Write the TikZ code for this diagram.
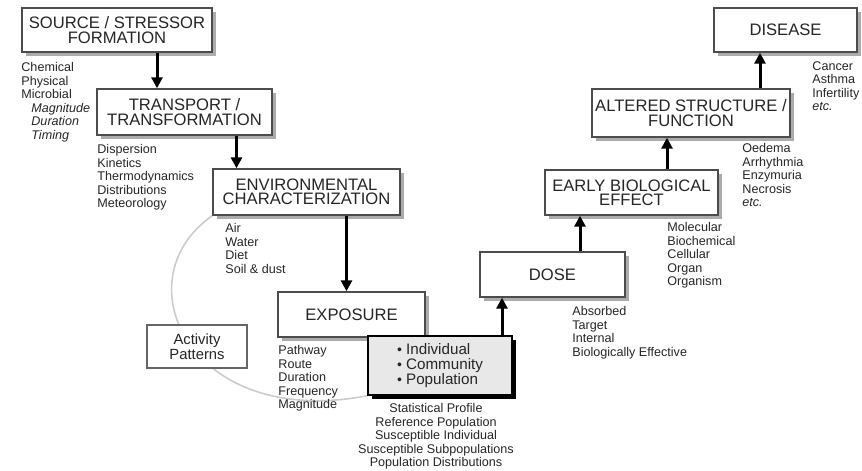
\documentclass[tikz,border=0pt]{standalone}
\usepackage{fontspec}
\setmainfont{Liberation Sans}
\usetikzlibrary{arrows.meta,shadows,backgrounds}

\begin{document}
\begin{tikzpicture}[
    x=0.5pt, y=-0.5pt,
    stage/.style={draw=black!70, line width=0.7pt, fill=white, inner sep=0pt,
      align=center, text=black!85, font=\fontsize{8.3}{7.2}\selectfont,
      general shadow={fill=gray!65, shadow xshift=2pt, shadow yshift=-2pt}},
    target/.style={draw=black, line width=0.7pt, fill=gray!18, inner sep=0pt,
      align=left, text=black!85, font=\fontsize{7.6}{7.3}\selectfont,
      general shadow={fill=black, shadow xshift=2.2pt, shadow yshift=-2.2pt}},
    habit/.style={draw=black!60, line width=0.8pt, fill=white, inner sep=0pt,
      align=center, text=black!85, font=\fontsize{7.4}{7.5}\selectfont},
    items/.style={anchor=north west, align=left, inner sep=0pt, text=black!85,
      font=\fontsize{6.3}{6.75}\selectfont},
    flow/.style={-{Triangle[length=5.5pt,width=5.5pt]}, line width=1.5pt}
  ]
  \useasboundingbox (0,0) rectangle (862,471);

  % stages of the chain
  \node[stage, minimum width=95pt, minimum height=22pt] (src) at (117,30) {SOURCE / STRESSOR\\FORMATION};
  \node[stage, minimum width=87.5pt, minimum height=23pt] (trans) at (184.5,112) {TRANSPORT /\\TRANSFORMATION};
  \node[stage, minimum width=93.5pt, minimum height=23pt] (env) at (306.5,192) {ENVIRONMENTAL\\CHARACTERIZATION};
  \node[stage, minimum width=73.5pt, minimum height=22.5pt] (expo) at (351.5,314.5) {EXPOSURE};
  \node[habit, minimum width=50pt, minimum height=21.5pt] (activ) at (197,346.5) {Activity\\Patterns};
  \node[target, minimum width=72pt, minimum height=29.5pt] (indiv) at (440,365.5) {{\scriptsize\textbullet} Individual\\{\scriptsize\textbullet} Community\\{\scriptsize\textbullet} Population};
  \node[stage, minimum width=72.5pt, minimum height=22.5pt] (dose) at (552.5,274.5) {DOSE};
  \node[stage, minimum width=86.5pt, minimum height=22.5pt] (early) at (631.5,192.5) {EARLY BIOLOGICAL\\EFFECT};
  \node[stage, minimum width=99pt, minimum height=24pt] (alter) at (691,113) {ALTERED STRUCTURE /\\FUNCTION};
  \node[stage, minimum width=71.5pt, minimum height=22pt] (disease) at (785.5,30) {DISEASE};

  % lists under the stages
  \node[items] (srcList) at (21,62) {Chemical\\Physical\\Microbial\\\hspace*{5pt}\textit{Magnitude}\\\hspace*{5pt}\textit{Duration}\\\hspace*{5pt}\textit{Timing}};
  \node[items] (transList) at (97,144) {Dispersion\\Kinetics\\Thermodynamics\\Distributions\\Meteorology};
  \node[items] (envList) at (225,223) {Air\\Water\\Diet\\Soil \& dust};
  \node[items] (expoList) at (278,345) {Pathway\\Route\\Duration\\Frequency\\Magnitude};
  \node[items, anchor=north, align=center] (indivList) at (436,403) {Statistical Profile\\Reference Population\\Susceptible Individual\\Susceptible Subpopulations\\Population Distributions};
  \node[items] (doseList) at (572,306) {Absorbed\\Target\\Internal\\Biologically Effective};
  \node[items] (earlyList) at (667,222) {Molecular\\Biochemical\\Cellular\\Organ\\Organism};
  \node[items] (alterList) at (742,143) {Oedema\\Arrhythmia\\Enzymuria\\Necrosis\\\textit{etc.}};
  \node[items] (diseaseList) at (812,61) {Cancer\\Asthma\\Infertility\\\textit{etc.}};

  % arrows down, then up
  \foreach \a/\b/\s in {src/trans/20pt, trans/env/26pt, env/expo/20pt}
    \draw[flow] ([xshift=\s]\a.south) -- ([xshift=\s]\a.south |- \b.north);
  \foreach \a/\b/\s in {indiv/dose/31pt, dose/early/13.75pt, early/alter/17.75pt, alter/disease/34.5pt}
    \draw[flow] ([xshift=\s]\a.north) -- ([xshift=\s]\a.north |- \b.south);

  % activity loop
  \begin{scope}[on background layer]
    \draw[gray!40, line width=0.8pt] (env.south west) .. controls (120,280) and (190,430) .. (indiv.south west);
  \end{scope}
\end{tikzpicture}
\end{document}
